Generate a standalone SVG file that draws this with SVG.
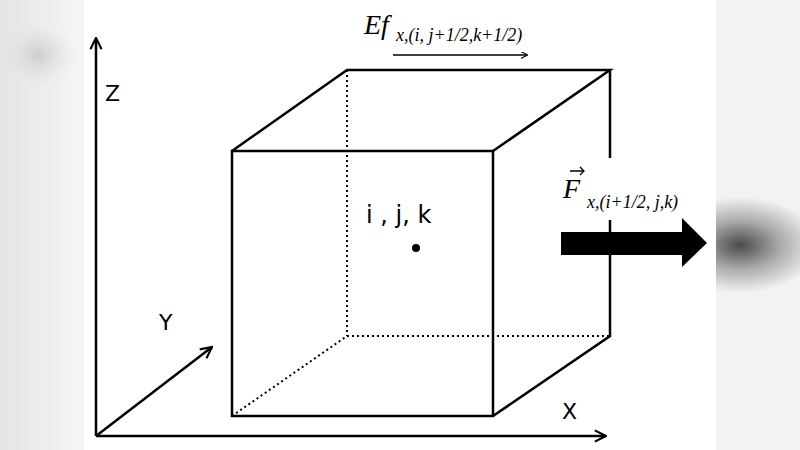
<svg xmlns="http://www.w3.org/2000/svg" width="800" height="450" viewBox="0 0 800 450">
<defs>
<linearGradient id="lg" x1="0" x2="1"><stop offset="0" stop-color="#e4e4e4"/><stop offset="1" stop-color="#f6f6f6"/></linearGradient>
<radialGradient id="rg" cx="740" cy="245" r="80" gradientUnits="userSpaceOnUse" gradientTransform="translate(740 245) scale(1 0.6) translate(-740 -245)"><stop offset="0" stop-color="#4a4a4a"/><stop offset="0.5" stop-color="#aaa"/><stop offset="1" stop-color="#f2f2f2"/></radialGradient>
<radialGradient id="lb" cx="0.5" cy="0.5" r="0.5"><stop offset="0" stop-color="#ccc"/><stop offset="1" stop-color="#e8e8e8" stop-opacity="0"/></radialGradient>
<marker id="ah" viewBox="0 0 10 10" refX="9" refY="5" markerWidth="7" markerHeight="7" markerUnits="userSpaceOnUse" orient="auto"><path d="M0,0 L10,5 L0,10" fill="none" stroke="#000" stroke-width="1.5"/></marker>
<marker id="ah2" viewBox="0 0 10 10" refX="9" refY="5" markerWidth="14" markerHeight="14" markerUnits="userSpaceOnUse" orient="auto"><path d="M1,1 L9,5 L1,9" fill="none" stroke="#000" stroke-width="1.5"/></marker>
<style>
.l{stroke:#000;stroke-width:2.5;fill:none}
.d{stroke:#000;stroke-width:2;stroke-dasharray:2 3;fill:none}
.s{font-family:"DejaVu Sans","Open Sans",sans-serif;fill:#000}
.m{font-family:"Liberation Serif",serif;font-style:italic;fill:#000}
</style>
</defs>
<rect width="800" height="450" fill="#fff"/>
<rect x="0" y="0" width="84" height="450" fill="url(#lg)"/>
<ellipse cx="38" cy="55" rx="40" ry="35" fill="url(#lb)"/>
<rect x="716" y="0" width="84" height="450" fill="url(#rg)"/>
<g id="axes">
<line class="l" x1="96" y1="436" x2="96" y2="38" stroke-width="2" marker-end="url(#ah2)"/>
<line class="l" x1="96" y1="436" x2="606" y2="436" stroke-width="2" marker-end="url(#ah2)"/>
<line class="l" x1="96" y1="436" x2="212" y2="347" stroke-width="2" marker-end="url(#ah2)"/>
<text class="s" x="105" y="101" font-size="22">Z</text>
<text class="s" x="159" y="330" font-size="22">Y</text>
<text class="s" x="562" y="419" font-size="22">X</text>
</g>
<g id="cube">
<line class="d" x1="347" y1="70" x2="347" y2="336"/>
<line class="d" x1="347" y1="336" x2="610" y2="336"/>
<line class="d" x1="232" y1="416" x2="347" y2="336"/>
<path class="l" d="M232,151 L347,70 L610,70 L493,151 M610,70 L610,158 M610,220 L610,336 L493,416"/>
<rect class="l" x="232" y="151" width="261" height="265"/>
<text class="s" x="366" y="223" font-size="24">i , j, k</text>
<circle cx="416" cy="248" r="4" fill="#000"/>
</g>
<g id="flux-label">
<text class="m" x="563" y="198" font-size="28">F</text>
<path d="M570,171 L584,171 M580,167 L584,171 L580,175" stroke="#000" stroke-width="1.3" fill="none"/>
<text class="m" x="587" y="208" font-size="18">x,(i+1/2, j,k)</text>
</g>
<g id="flux-arrow">
<polygon points="561,232 682,232 682,218 707,243 682,267 682,255 561,255" fill="#000"/>
</g>
<g id="edge-label">
<text class="m" x="364" y="34" font-size="28">Ef</text>
<text class="m" x="396" y="41" font-size="18">x,(i, j+1/2,k+1/2)</text>
<line x1="393" y1="55" x2="527" y2="55" stroke="#000" stroke-width="1.5" marker-end="url(#ah)"/>
</g>
</svg>
